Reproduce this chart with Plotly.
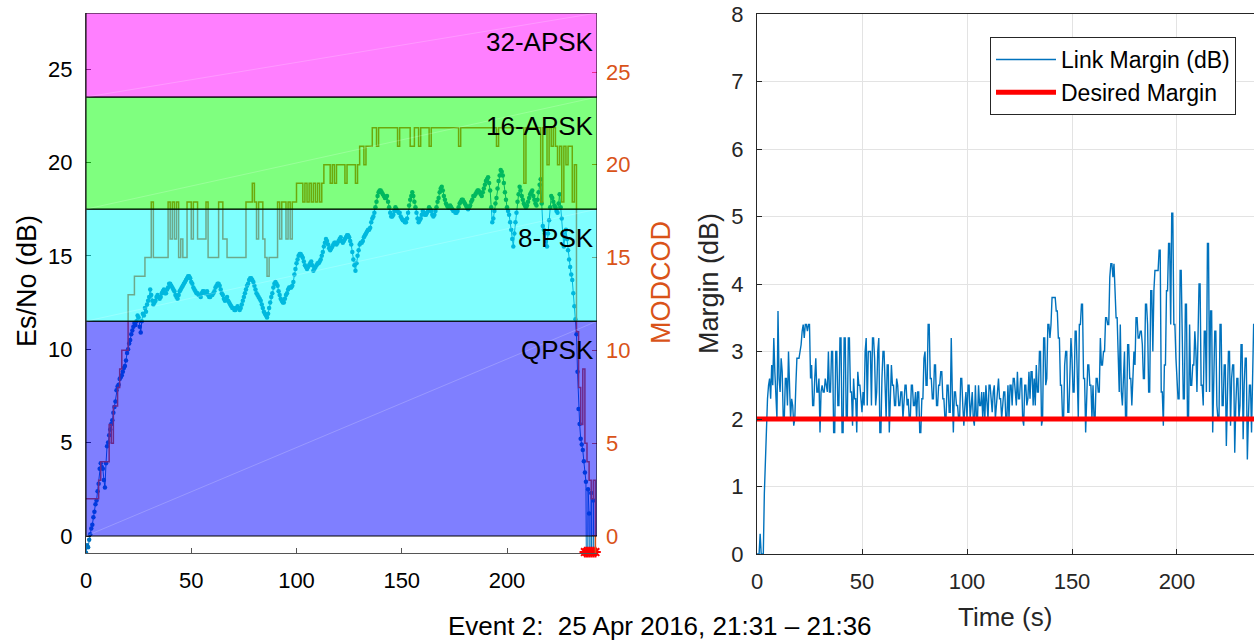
import plotly.graph_objects as go

W, H = 1254, 641

# Es/No estimate (dB), two samples per second from t = 0
ESNO_DB = [
    -0.9, -0.5, -0.6, -0.2, 0.1, 0.4, 0.6, 1.0, 1.3, 1.7, 1.9, 2.4, 2.8, 3.6, 3.9, 3.7, 3.6, 3.0, 2.6, 3.9,
    4.8, 5.0, 5.4, 5.7, 6.0, 6.2, 6.6, 6.9, 7.2, 7.8, 8.0, 8.1, 8.4, 8.5, 8.6, 8.8, 9.0, 9.1, 9.4, 9.8,
    10.0, 10.3, 10.5, 10.8, 11.0, 11.2, 11.4, 11.3, 11.5, 11.8, 11.7, 11.2, 10.9, 11.5, 11.9, 11.8, 12.2, 12.0, 12.4, 12.6,
    12.8, 13.2, 12.9, 12.6, 12.4, 12.5, 12.6, 12.8, 12.9, 12.8, 12.7, 12.8, 13.0, 13.1, 13.2, 13.0, 13.0, 13.2, 13.3, 13.5,
    13.5, 13.4, 13.3, 13.2, 13.1, 12.9, 12.8, 12.7, 12.9, 13.1, 13.2, 13.3, 13.4, 13.5, 13.6, 13.7, 13.8, 13.9, 13.9, 13.8,
    13.6, 13.5, 13.3, 13.2, 13.1, 13.0, 13.0, 12.9, 12.9, 12.8, 13.0, 13.1, 13.1, 13.0, 13.0, 13.1, 12.9, 12.8, 12.8, 12.9,
    12.9, 13.0, 13.1, 13.3, 13.4, 13.5, 13.5, 13.4, 13.2, 13.0, 12.9, 12.7, 12.6, 12.7, 12.8, 12.6, 12.5, 12.4, 12.3, 12.2,
    12.2, 12.1, 12.1, 12.2, 12.3, 12.2, 12.1, 12.2, 12.4, 12.6, 12.8, 13.0, 13.2, 13.4, 13.5, 13.7, 13.8, 13.8, 13.7, 13.6,
    13.4, 13.2, 13.0, 12.9, 12.8, 12.7, 12.6, 12.4, 12.2, 12.0, 11.9, 11.8, 11.7, 11.9, 12.2, 12.5, 12.8, 13.0, 13.3, 13.5,
    13.6, 13.5, 13.4, 13.1, 12.9, 12.7, 12.6, 12.5, 12.5, 12.7, 12.9, 13.0, 13.2, 13.3, 13.3, 13.3, 13.4, 13.6, 14.0, 14.3,
    14.6, 14.8, 15.0, 15.1, 15.1, 15.0, 14.9, 14.7, 14.5, 14.4, 14.3, 14.4, 14.5, 14.6, 14.7, 14.5, 14.2, 14.3, 14.4, 14.5,
    14.6, 14.6, 14.7, 14.8, 15.0, 15.2, 15.5, 15.7, 15.9, 15.8, 15.6, 15.4, 15.3, 15.4, 15.5, 15.6, 15.7, 15.7, 15.6, 15.7,
    15.8, 15.9, 16.0, 15.8, 15.7, 15.8, 15.9, 16.0, 16.1, 16.1, 16.0, 15.8, 15.6, 15.2, 14.8, 14.5, 14.2, 14.6, 15.0, 15.3,
    15.6, 15.7, 15.7, 15.8, 16.0, 16.1, 16.2, 16.3, 16.4, 16.4, 16.5, 16.8, 17.0, 17.1, 17.3, 17.6, 17.9, 18.2, 18.4, 18.5,
    18.5, 18.4, 18.3, 18.2, 18.1, 18.1, 18.2, 17.9, 17.6, 17.3, 17.1, 17.1, 17.2, 17.4, 17.6, 17.5, 17.4, 17.3, 17.3, 17.1,
    17.0, 16.9, 16.9, 16.8, 16.8, 17.0, 17.3, 17.7, 18.0, 18.2, 18.4, 18.2, 17.9, 17.6, 17.3, 17.0, 16.8, 16.9, 17.0, 17.2,
    17.4, 17.3, 17.2, 17.2, 17.3, 17.4, 17.6, 17.5, 17.4, 17.2, 17.1, 17.2, 17.4, 17.6, 17.9, 18.1, 18.4, 18.6, 18.7, 18.5,
    18.2, 18.0, 17.8, 17.7, 17.6, 17.6, 17.7, 17.6, 17.5, 17.4, 17.4, 17.3, 17.3, 17.4, 17.6, 17.8, 17.9, 18.0, 18.0, 17.9,
    17.8, 17.7, 17.6, 17.5, 17.6, 17.7, 17.9, 18.0, 18.2, 18.2, 18.3, 18.4, 18.5, 18.5, 18.4, 18.3, 18.2, 18.4, 18.6, 18.8,
    19.0, 19.1, 19.2, 18.9, 18.5, 17.6, 16.8, 17.0, 17.4, 17.8, 18.1, 18.6, 19.0, 19.3, 19.6, 19.5, 19.3, 18.9, 18.4, 18.0,
    17.6, 17.4, 17.2, 16.8, 16.4, 15.9, 15.5, 16.2, 16.8, 17.3, 17.9, 18.3, 18.7, 18.5, 18.2, 18.0, 17.8, 17.7, 17.6, 17.7,
    17.9, 18.1, 18.3, 18.4, 18.5, 18.2, 18.0, 17.8, 17.7, 18.0, 18.4, 18.8, 19.1, 17.8, 16.6, 16.4, 16.2, 15.8, 15.5, 16.2,
    16.9, 17.6, 18.2, 18.1, 17.9, 17.7, 17.6, 17.4, 17.3, 17.8, 18.3, 17.6, 17.0, 16.2, 15.5, 16.0, 16.4, 15.9, 15.3, 14.8,
    14.4, 14.0, 13.7, 13.0, 12.3, 11.6, 10.8, 8.8, 6.8, 6.0, 5.2, 4.9, 4.6, 4.0, 3.4, 2.9, -9.0, 2.5, 1.2, -9.0,
    2.3, -9.0, 1.9, -9.0, -9.0,
]

# MODCOD index commanded each second
MODCOD = [
    2, 2, 2, 2, 2, 2, 3, 4, 4, 4,
    4, 6, 5, 7, 7, 8, 9, 10, 10, 10,
    13, 13, 13, 14, 14, 14, 14, 14, 15, 15,
    15, 18, 15, 15, 15, 15, 15, 15, 15, 18,
    16, 18, 16, 18, 15, 16, 15, 15, 18, 18,
    16, 18, 18, 16, 16, 16, 16, 18, 15, 15,
    15, 15, 15, 18, 18, 16, 16, 15, 15, 15,
    15, 15, 15, 15, 15, 15, 18, 18, 18, 19,
    18, 16, 18, 18, 16, 15, 14, 15, 15, 15,
    15, 18, 16, 18, 18, 16, 18, 16, 18, 18,
    19, 19, 19, 18, 19, 18, 19, 18, 19, 18,
    19, 18, 19, 20, 20, 20, 19, 20, 19, 20,
    20, 20, 20, 19, 20, 20, 20, 20, 19, 20,
    21, 21, 20, 21, 21, 21, 22, 22, 21, 22,
    22, 22, 22, 22, 22, 22, 22, 22, 21, 22,
    22, 22, 22, 22, 21, 21, 22, 22, 21, 22,
    22, 22, 22, 21, 22, 22, 22, 22, 22, 22,
    22, 22, 22, 22, 22, 22, 22, 21, 22, 22,
    22, 22, 22, 22, 22, 22, 22, 22, 22, 22,
    22, 22, 22, 22, 22, 21, 22, 22, 22, 22,
    22, 22, 22, 22, 22, 22, 22, 22, 19, 22,
    22, 22, 22, 22, 22, 22, 18, 22, 22, 20,
    22, 21, 22, 21, 20, 21, 18, 21, 20, 21,
    21, 18, 20, 11, 8, 6, 9, 5, 4, 3,
    2, 3, -1,
]

# Link margin (dB), two samples per second
MARGIN_DB = [
    0.0, 0.0, 0.0, 0.3, 0.0, 0.0, 0.0, 0.9, 1.5, 2.0, 2.3, 2.5, 2.6, 2.3, 2.8, 2.5, 3.2, 2.7, 2.2, 2.0,
    3.6, 2.6, 2.4, 2.9, 2.7, 2.0, 2.0, 2.6, 2.6, 2.2, 3.0, 2.4, 2.0, 2.3, 2.2, 1.9, 2.0, 2.5, 2.9, 2.9,
    2.9, 3.0, 3.1, 3.3, 3.4, 3.2, 3.4, 3.4, 3.3, 3.4, 3.4, 2.6, 2.8, 2.2, 2.2, 2.6, 2.9, 2.4, 2.4, 2.6,
    1.8, 2.4, 2.5, 2.4, 2.4, 2.6, 2.5, 2.4, 3.0, 2.4, 2.4, 3.0, 3.0, 1.8, 1.8, 3.0, 3.0, 2.2, 2.2, 3.2,
    3.2, 1.8, 1.8, 3.2, 3.2, 2.0, 2.0, 3.2, 3.2, 2.4, 2.4, 1.9, 2.6, 2.3, 2.3, 1.8, 2.7, 2.5, 2.5, 2.2,
    2.1, 2.4, 2.2, 3.0, 3.2, 2.2, 3.0, 3.0, 3.0, 2.2, 3.2, 3.2, 2.9, 2.2, 2.4, 3.0, 3.2, 1.8, 1.8, 2.6,
    3.0, 3.0, 2.3, 2.0, 2.8, 2.8, 1.8, 2.2, 2.8, 2.5, 2.5, 2.2, 2.2, 2.6, 2.5, 2.2, 2.2, 2.4, 2.4, 2.0,
    2.2, 2.5, 2.5, 2.2, 2.3, 2.0, 2.0, 2.5, 2.5, 2.2, 2.2, 2.4, 2.0, 2.4, 2.4, 1.8, 1.8, 2.3, 2.3, 2.9,
    3.0, 2.5, 2.5, 3.4, 3.4, 2.6, 2.6, 2.3, 2.3, 2.8, 2.8, 2.2, 2.2, 2.5, 2.5, 2.7, 2.7, 2.3, 2.3, 2.0,
    2.0, 2.5, 2.5, 2.1, 2.1, 3.2, 2.4, 1.8, 2.4, 2.4, 2.2, 2.2, 2.0, 2.0, 2.6, 2.6, 2.2, 1.9, 2.2, 2.4,
    2.0, 2.5, 2.5, 2.0, 2.2, 2.4, 2.0, 1.9, 2.5, 2.0, 2.0, 2.5, 2.2, 2.2, 2.4, 2.0, 2.4, 2.0, 2.5, 2.2,
    2.0, 2.5, 2.5, 2.3, 2.1, 2.4, 2.5, 2.0, 2.2, 2.5, 2.6, 2.3, 2.3, 2.0, 2.2, 2.4, 2.4, 2.0, 2.0, 2.5,
    2.0, 2.5, 2.5, 2.2, 2.6, 2.6, 2.4, 2.2, 2.7, 2.3, 2.3, 2.6, 2.6, 2.0, 1.9, 2.5, 2.5, 2.2, 2.3, 2.7,
    2.3, 2.7, 2.7, 2.2, 2.6, 2.2, 2.8, 2.4, 2.4, 3.0, 3.0, 1.9, 2.0, 3.2, 3.2, 2.5, 2.6, 3.4, 3.4, 3.2,
    3.4, 3.8, 3.8, 3.8, 3.8, 3.6, 3.6, 3.2, 3.2, 2.5, 2.5, 2.0, 2.0, 2.8, 3.0, 3.0, 2.1, 2.1, 2.9, 3.2,
    2.9, 2.4, 2.4, 3.3, 3.3, 2.4, 2.0, 3.4, 3.4, 3.7, 3.7, 2.6, 2.6, 1.8, 2.2, 2.8, 2.8, 2.5, 2.5, 2.0,
    2.5, 2.0, 2.0, 2.6, 2.6, 2.4, 2.4, 3.2, 2.8, 2.8, 3.0, 3.0, 3.5, 3.5, 3.4, 3.4, 4.1, 4.3, 4.3, 4.1,
    4.3, 4.0, 3.5, 3.5, 2.9, 2.4, 3.4, 2.4, 2.2, 2.6, 3.0, 2.0, 2.0, 3.1, 3.1, 2.6, 2.6, 2.2, 2.8, 3.0,
    2.8, 3.5, 3.5, 3.2, 3.2, 3.3, 3.3, 3.1, 2.6, 2.6, 3.7, 3.7, 3.4, 2.4, 2.4, 3.9, 3.9, 3.0, 3.9, 4.2,
    4.2, 4.2, 4.2, 4.5, 4.5, 2.4, 2.4, 1.9, 2.8, 2.8, 3.9, 3.9, 4.6, 4.6, 3.4, 5.05, 5.05, 3.4, 3.4, 2.9,
    2.6, 2.3, 2.3, 4.2, 4.2, 3.2, 2.3, 2.3, 3.7, 3.7, 2.0, 2.0, 3.4, 2.5, 2.5, 2.8, 2.8, 3.3, 3.0, 2.4,
    3.0, 4.0, 4.0, 2.5, 2.5, 2.2, 3.3, 3.3, 2.4, 4.6, 4.6, 2.4, 3.6, 3.6, 1.8, 2.7, 3.3, 3.3, 2.2, 2.0,
    2.0, 3.4, 3.4, 2.2, 2.2, 2.8, 2.8, 1.6, 2.4, 3.0, 3.0, 1.9, 2.6, 2.8, 2.8, 1.5, 2.2, 2.6, 2.6, 2.0,
    2.2, 3.1, 3.1, 1.7, 2.5, 2.9, 2.9, 1.4, 2.0, 2.5, 2.5, 1.8, 2.6, 3.4, 3.4, 2.0, 2.6, 3.0, 3.0, 1.6,
    1.6, 2.8, 2.8, 2.2, 2.2,
]
DESIRED_MARGIN_DB = 2.0

# Seconds at which the receiver lost lock
LOSS_T = [237, 238, 239, 240, 241, 242]
LOSS_Y = -0.86

# Modulation regions on the Es/No axis
BAND_NAMES = ["QPSK", "8-PSK", "16-APSK", "32-APSK"]
BAND_LOW = [0.0, 11.5, 17.5, 23.5]
BAND_HIGH = [11.5, 17.5, 23.5, 28.0]
BAND_FILL = ["rgba(0,0,255,0.5)", "rgba(0,255,255,0.5)",
             "rgba(0,255,0,0.5)", "rgba(255,0,255,0.5)"]

HALF_SEC = 0.5
T_ESNO = [i * HALF_SEC for i in range(len(ESNO_DB))]
T_MODCOD = list(range(len(MODCOD)))
T_MARGIN = [i * HALF_SEC for i in range(len(MARGIN_DB))]

LEFT_X_MAX = 242.75
RIGHT_X_MAX = 236.67
BLUE = "#0072BD"
ORANGE = "#D95319"
TXT = "#262626"
FONT = "Liberation Sans, Arial, Helvetica, sans-serif"


def fx(px):
    return px / W


def fy(px):
    return 1 - px / H


fig = go.Figure()

fig.add_trace(go.Scatter(
    x=T_ESNO, y=ESNO_DB, mode="lines+markers", showlegend=False,
    line=dict(color=BLUE, width=1), marker=dict(color=BLUE, size=4.5),
    xaxis="x", yaxis="y"))
fig.add_trace(go.Scatter(
    x=T_MODCOD, y=MODCOD, mode="lines", showlegend=False,
    line=dict(color=ORANGE, width=1.5, shape="hv"),
    xaxis="x", yaxis="y2"))
fig.add_trace(go.Scatter(
    x=LOSS_T, y=[LOSS_Y] * len(LOSS_T), mode="markers", showlegend=False,
    marker=dict(symbol="asterisk-open", size=9, color="red",
                line=dict(color="red", width=2)),
    cliponaxis=False, xaxis="x", yaxis="y"))

fig.add_trace(go.Scatter(
    x=T_MARGIN, y=MARGIN_DB, mode="lines", name="Link Margin (dB)",
    legendgroup="a", line=dict(color=BLUE, width=1.4),
    xaxis="x2", yaxis="y3"))
fig.add_trace(go.Scatter(
    x=[T_MARGIN[0], T_MARGIN[-1]], y=[DESIRED_MARGIN_DB] * 2, mode="lines",
    name="Desired Margin", legendgroup="b",
    line=dict(color="red", width=5), xaxis="x2", yaxis="y3"))

shapes = []
annotations = []
for name, lo, hi, fill in zip(BAND_NAMES, BAND_LOW, BAND_HIGH, BAND_FILL):
    shapes.append(dict(type="rect", xref="x", yref="y", x0=0, x1=LEFT_X_MAX,
                       y0=lo, y1=hi, fillcolor=fill, layer="above",
                       line=dict(color="black", width=1)))
    shapes.append(dict(type="line", xref="x", yref="y", x0=0, x1=LEFT_X_MAX,
                       y0=lo, y1=hi, layer="above",
                       line=dict(color="rgba(255,255,255,0.2)", width=1)))
    annotations.append(dict(text=name, xref="x", yref="y", x=LEFT_X_MAX,
                            y=hi - 1.55, xanchor="right", yanchor="middle",
                            xshift=-1, showarrow=False,
                            font=dict(size=26, color="black", family=FONT)))

annotations += [
    dict(text="Es/No (dB)", xref="paper", yref="paper", x=fx(27), y=fy(281),
         textangle=-90, showarrow=False, xanchor="center", yanchor="middle",
         font=dict(size=27, color="black", family=FONT)),
    dict(text="MODCOD", xref="paper", yref="paper", x=fx(661), y=fy(283),
         textangle=-90, showarrow=False, xanchor="center", yanchor="middle",
         font=dict(size=27, color=ORANGE, family=FONT)),
    dict(text="Margin (dB)", xref="paper", yref="paper", x=fx(709), y=fy(284),
         textangle=-90, showarrow=False, xanchor="center", yanchor="middle",
         font=dict(size=27, color=TXT, family=FONT)),
    dict(text="Time (s)", xref="paper", yref="paper", x=fx(1005), y=fy(617),
         showarrow=False, xanchor="center", yanchor="middle",
         font=dict(size=26, color=TXT, family=FONT)),
    dict(text="Event 2:\u00a0\u00a025 Apr 2016, 21:31 \u2013 21:36",
         xref="paper", yref="paper", x=fx(660), y=fy(626),
         showarrow=False, xanchor="center", yanchor="middle",
         font=dict(size=26, color="black", family=FONT)),
]

tick_font = dict(size=22, color="black", family=FONT)

fig.update_layout(
    width=W, height=H,
    margin=dict(l=0, r=0, t=0, b=0, pad=0, autoexpand=False),
    paper_bgcolor="white", plot_bgcolor="white",
    font=dict(family=FONT, color=TXT),
    shapes=shapes, annotations=annotations,
    xaxis=dict(domain=[fx(86), fx(597)], range=[0, LEFT_X_MAX], anchor="y",
               tickvals=[0, 50, 100, 150, 200], ticks="inside", ticklen=5,
               tickcolor="#555555", showline=True, linecolor="#555555",
               showgrid=False, zeroline=False, tickfont=tick_font,
               ticklabelstandoff=8, automargin=False),
    yaxis=dict(domain=[fy(553), fy(13)], range=[-0.91, 28.0], anchor="x",
               tickvals=[0, 5, 10, 15, 20, 25], ticks="inside", ticklen=5,
               tickcolor="#333333", showline=True, linecolor="#333333",
               showgrid=False, zeroline=False, tickfont=tick_font,
               ticklabelstandoff=8, automargin=False),
    yaxis2=dict(overlaying="y", side="right", anchor="x",
                range=[-0.92, 28.18], tickvals=[0, 5, 10, 15, 20, 25],
                ticks="inside", ticklen=5, tickcolor=ORANGE,
                showline=False, showgrid=False, zeroline=False,
                tickfont=dict(size=22, color=ORANGE, family=FONT),
                ticklabelstandoff=8, automargin=False),
    xaxis2=dict(domain=[fx(757), 1.0], range=[0, RIGHT_X_MAX], anchor="y3",
                tickvals=[0, 50, 100, 150, 200], ticks="inside", ticklen=5,
                tickcolor=TXT, showline=True, linecolor=TXT, mirror=True,
                showgrid=True, gridcolor="#e3e3e3", zeroline=False,
                tickfont=dict(size=22, color=TXT, family=FONT),
                ticklabelstandoff=8, automargin=False),
    yaxis3=dict(domain=[fy(554), fy(14)], range=[0, 8], anchor="x2",
                dtick=1, ticks="inside", ticklen=5, tickcolor=TXT,
                showline=True, linecolor=TXT, showgrid=True,
                gridcolor="#e3e3e3", zeroline=False,
                tickfont=dict(size=22, color=TXT, family=FONT),
                ticklabelstandoff=8, automargin=False),
    legend=dict(x=fx(990), y=fy(37), xanchor="left", yanchor="top",
                bgcolor="white", bordercolor=TXT, borderwidth=1,
                font=dict(size=23, color="black", family=FONT),
                tracegroupgap=0, itemwidth=60),
)

fig.write_html("out.html")
